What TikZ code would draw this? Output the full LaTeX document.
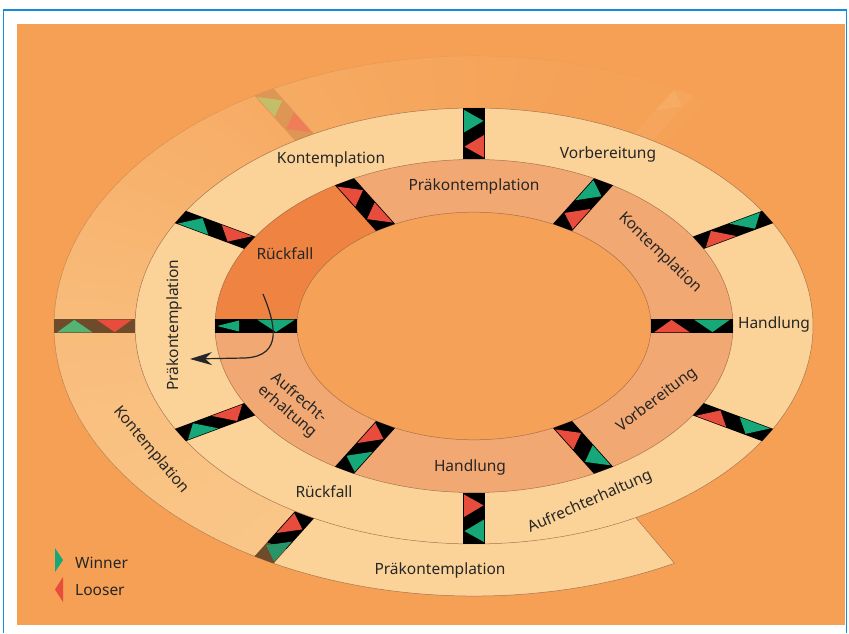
\documentclass[tikz,border=0pt]{standalone}
\usepackage{fontspec}
\setmainfont{Noto Sans}
\usetikzlibrary{arrows.meta}
\definecolor{bgor}{RGB}{245,160,85}
\definecolor{ringlt}{RGB}{251,211,153}
\definecolor{ringmd}{RGB}{242,168,114}
\definecolor{ringdk}{RGB}{238,131,66}
\definecolor{holec}{RGB}{245,162,88}
\definecolor{wgreen}{RGB}{22,168,120}
\definecolor{lred}{RGB}{232,76,61}
\definecolor{txt}{RGB}{38,38,38}
\definecolor{edgec}{RGB}{150,100,70}
\definecolor{frameblue}{RGB}{20,140,220}
\definecolor{bandbr}{RGB}{110,75,42}
\definecolor{mgreen}{RGB}{85,180,115}
\definecolor{fband}{RGB}{222,150,85}
\definecolor{fgreen}{RGB}{195,190,105}
\definecolor{fred}{RGB}{240,125,90}
\definecolor{vfband}{RGB}{245,165,92}
\definecolor{vfgreen}{RGB}{246,172,100}
\definecolor{vfred}{RGB}{246,164,94}
\newcommand\mymarker[6]{%
  \begin{scope}[rotate=#1]
    \pgfmathsetmacro\mkm{(#2+#3)/2}
    \fill[#4] (#2,-11) -- (#3,-11) -- (#3,11) -- (#2,11) -- cycle;
    \fill[#5] ({#2+3},-10) -- ({\mkm-2},-10) -- ({(#2+\mkm)/2},9.5) -- cycle;
    \fill[#6] ({\mkm+2},10) -- ({#3-3},10) -- ({(\mkm+#3)/2},-9.5) -- cycle;
  \end{scope}}
\begin{document}
\begin{tikzpicture}[x=1pt,y=1pt,
  lbl/.style={font=\fontsize{15.5}{18}\selectfont, text=txt, inner sep=0pt, align=center},
  edgeline/.style={draw=edgec, line width=0.5pt, opacity=0.8}]
\useasboundingbox (0,0) rectangle (849,633);
\fill[white] (0,0) rectangle (849,633);
\fill[bgor] (17,8) rectangle (845,609);
\draw[frameblue, line width=1.2pt] (3.5,0) -- (3.5,623) -- (846.5,623) -- (846.5,0);

\begin{scope}
\clip (17,8) rectangle (845,609);
\begin{scope}[shift={(474,307)}, yscale=0.643]
  % fading spiral ring
  \foreach \a in {240,238,...,42}{
    \pgfmathsetmacro\f{\a>=180 ? 55+(\a-180)/3 : (\a>=120 ? 22+(\a-120)*0.55 : 22*((\a-40)/80)^2)}
    \pgfmathsetmacro\b{\a-2.4}
    \pgfmathsetmacro\op{\f/110}
    \fill[ringlt!\f!bgor] (\a:339) arc[start angle=\a,end angle=\b,radius=339] -- (\b:420) arc[start angle=\b,end angle=\a,radius=420] -- cycle;
    \draw[edgec, line width=0.5pt, opacity=\op] (\a:420) arc[start angle=\a,end angle=\b,radius=420];
  }
  % solid bottom part of spiral
  \fill[ringlt] (240:339) arc[start angle=240,end angle=298.5,radius=339] -- (298.5:420) arc[start angle=298.5,end angle=240,radius=420] -- cycle;
  \draw[edgeline] (240:420) arc[start angle=240,end angle=298.5,radius=420] -- (298.5:339);
  % spiral markers
  \mymarker{180}{339}{420}{bandbr}{lred}{mgreen}
  \mymarker{120}{339}{420}{fband}{fred}{fgreen}
  \mymarker{60}{339}{420}{vfband}{vfred}{vfgreen}
  \begin{scope}[rotate=240]
    \fill[black] (339,-11) -- (395,-11) -- (395,11) -- (339,11) -- cycle;
    \fill[bandbr] (395,-11) -- (420,-11) -- (420,11) -- (395,11) -- cycle;
    \fill[lred] (342,-10) -- (377.5,-10) -- (359.75,9.5) -- cycle;
    \fill[wgreen!80!bandbr] (381.5,10) -- (417,10) -- (399.25,-9.5) -- cycle;
  \end{scope}
\end{scope}
\end{scope}

\begin{scope}[shift={(474,307)}, yscale=0.643]
  % rings
  \fill[ringlt] (0,0) circle[radius=339];
  \fill[ringmd] (0,0) circle[radius=259];
  \fill[ringdk] (0,0) -- (120:259) arc[start angle=120,end angle=180,radius=259] -- cycle;
  \fill[holec] (0,0) circle[radius=177];
  \draw[edgeline] (0,0) circle[radius=339];
  \draw[edgeline] (0,0) circle[radius=259];
  \draw[edgeline] (0,0) circle[radius=177];
  % inner ring markers
  \mymarker{0}{177}{259}{black}{lred}{wgreen}
  \mymarker{60}{177}{259}{black}{lred}{wgreen}
  \mymarker{120}{177}{259}{black}{lred}{lred}
  \mymarker{240}{177}{259}{black}{lred}{wgreen}
  \mymarker{300}{177}{259}{black}{lred}{wgreen}
  \begin{scope}[rotate=180]
    \fill[black] (177,-11) -- (259,-11) -- (259,11) -- (177,11) -- cycle;
    \fill[wgreen] (257,0) -- (235,8.5) -- (235,-8.5) -- cycle;
    \fill[wgreen] (179,-10) -- (217,-10) -- (198,9.5) -- cycle;
  \end{scope}
  % outer ring markers
  \mymarker{30}{259}{339}{black}{lred}{wgreen}
  \mymarker{90}{259}{339}{black}{lred}{wgreen}
  \mymarker{150}{259}{339}{black}{lred}{wgreen}
  \mymarker{210}{259}{339}{black}{lred}{wgreen}
  \mymarker{270}{259}{339}{black}{lred}{wgreen}
  \mymarker{330}{259}{339}{black}{lred}{wgreen}
\end{scope}

% labels inner ring
\node[lbl] (iPrae) at (474,447) {Präkontemplation};
\node[lbl, rotate=-44] (iKont) at (660,380) {Kontemplation};
\node[lbl, rotate=37] (iVorb) at (657,233) {Vorbereitung};
\node[lbl] (iHand) at (470,166) {Handlung};
\node[lbl, rotate=-40] (iAufr) at (293,228) {Aufrecht-\\erhaltung};
\node[lbl] (iRueck) at (285,379) {Rückfall};
% labels outer ring
\node[lbl] (oKont) at (331,474) {Kontemplation};
\node[lbl] (oVorb) at (608,479) {Vorbereitung};
\node[lbl] (oHand) at (774,309) {Handlung};
\node[lbl, rotate=24] (oAufr) at (590,131) {Aufrechterhaltung};
\node[lbl] (oRueck) at (324,141) {Rückfall};
\node[lbl, rotate=90] (oPrae) at (174,308) {Präkontemplation};
% labels spiral
\node[lbl] (sPrae) at (440,63) {Präkontemplation};
\node[lbl, rotate=-50] (sKont) at (151,183) {Kontemplation};

% arrow
\coordinate (arrS) at (263,339);
\coordinate (arrE) at (190,274);
\draw[line width=1.2pt, black!85, -{Stealth[length=22pt,width=13pt,inset=7pt]}] (arrS) .. controls (274,312) and (285,277) .. (245,275) -- (arrE);

% legend
\fill[wgreen] (55,85) -- (63,73) -- (55,61) -- cycle;
\fill[lred] (63,56) -- (55,43.5) -- (63,31) -- cycle;
\node[lbl, anchor=base west] (win) at (75,65) {Winner};
\node[lbl, anchor=base west] (loo) at (75,38) {Looser};
\end{tikzpicture}
\end{document}
